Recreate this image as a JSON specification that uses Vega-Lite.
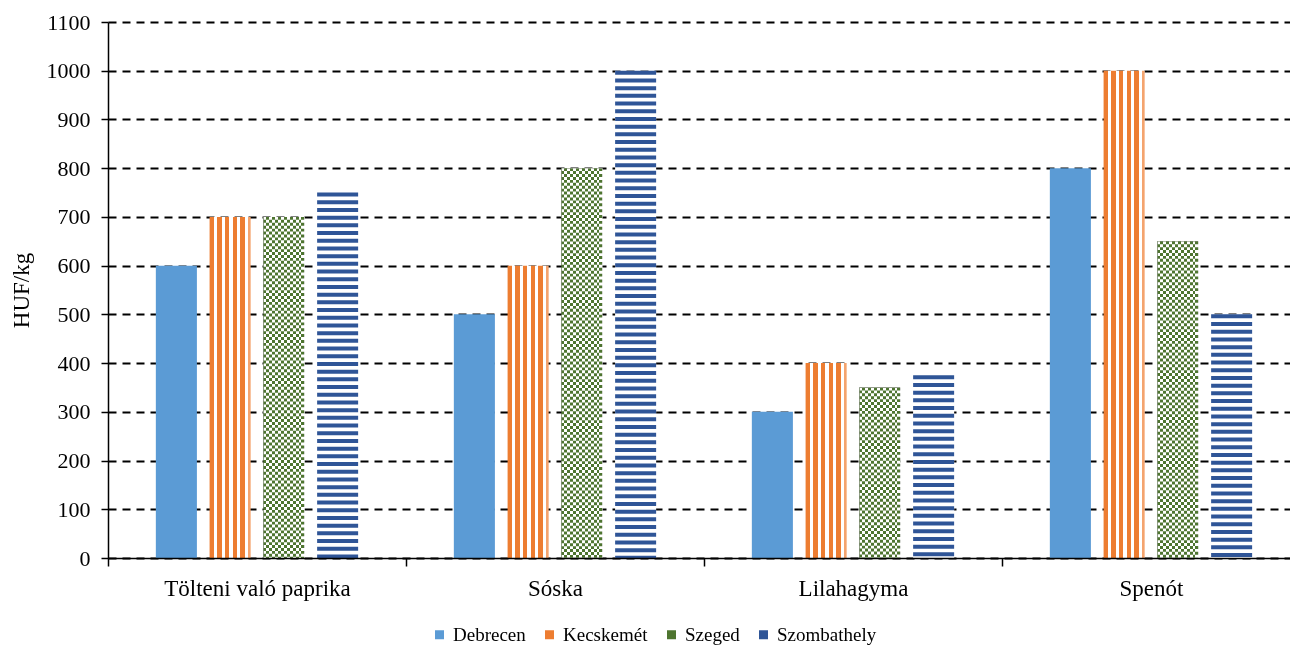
{
  "$schema": "https://vega.github.io/schema/vega-lite/v6.json",
  "width": 1182,
  "height": 536,
  "autosize": {"type": "none"},
  "padding": {"left": 108, "top": 22, "right": 0, "bottom": 88},
  "background": "white",
  "config": {
    "font": "Liberation Serif",
    "view": {"stroke": null}
  },
  "data": {
    "values": [
      {"veg": "Tölteni való paprika", "city": "Debrecen", "value": 600},
      {"veg": "Tölteni való paprika", "city": "Kecskemét", "value": 700},
      {"veg": "Tölteni való paprika", "city": "Szeged", "value": 700},
      {"veg": "Tölteni való paprika", "city": "Szombathely", "value": 750},
      {"veg": "Sóska", "city": "Debrecen", "value": 500},
      {"veg": "Sóska", "city": "Kecskemét", "value": 600},
      {"veg": "Sóska", "city": "Szeged", "value": 800},
      {"veg": "Sóska", "city": "Szombathely", "value": 1000},
      {"veg": "Lilahagyma", "city": "Debrecen", "value": 300},
      {"veg": "Lilahagyma", "city": "Kecskemét", "value": 400},
      {"veg": "Lilahagyma", "city": "Szeged", "value": 350},
      {"veg": "Lilahagyma", "city": "Szombathely", "value": 375},
      {"veg": "Spenót", "city": "Debrecen", "value": 800},
      {"veg": "Spenót", "city": "Kecskemét", "value": 1000},
      {"veg": "Spenót", "city": "Szeged", "value": 650},
      {"veg": "Spenót", "city": "Szombathely", "value": 500}
    ]
  },
  "encoding": {
    "x": {
      "field": "veg", "type": "nominal",
      "scale": {"domain": ["Tölteni való paprika", "Sóska", "Lilahagyma", "Spenót"], "range": [0, 1192], "paddingInner": 0, "paddingOuter": 0},
      "axis": {"title": null, "labelFontSize": 23, "labelColor": "black", "labelPadding": 11, "labelAngle": 0, "labelLimit": 0, "tickBand": "extent", "tickSize": 8, "tickColor": "black", "tickWidth": 1.5, "domainColor": "black", "domainWidth": 1.5, "grid": false, "zindex": 1}
    },
    "xOffset": {
      "field": "city", "type": "nominal",
      "scale": {"domain": ["Debrecen", "Kecskemét", "Szeged", "Szombathely"], "paddingInner": 0.236, "paddingOuter": 0.89}
    },
    "y": {
      "field": "value", "type": "quantitative",
      "scale": {"domain": [0, 1100], "nice": false},
      "axis": {"title": "HUF/kg", "titleFontSize": 23, "titleFontWeight": "normal", "titleColor": "black", "titlePadding": 13, "values": [0, 100, 200, 300, 400, 500, 600, 700, 800, 900, 1000, 1100], "format": "d", "labelFontSize": 22, "labelColor": "black", "labelPadding": 11, "tickSize": 7, "tickColor": "black", "tickWidth": 1.5, "domainColor": "black", "domainWidth": 1.5, "grid": true, "gridColor": "black", "gridDash": [8, 6], "gridWidth": 1.8, "zindex": 0}
    }
  },
  "layer": [
    {
      "mark": {"type": "bar"},
      "encoding": {
        "color": {
          "field": "city", "type": "nominal",
          "scale": {"domain": ["Debrecen", "Kecskemét", "Szeged", "Szombathely"], "range": ["#5B9BD5", "#ED7D31", "#4E7530", "#2F5597"]},
          "legend": {"title": null, "orient": "none", "legendX": 322, "legendY": 603, "direction": "horizontal", "symbolType": "square", "symbolSize": 81, "symbolStrokeWidth": 0, "labelFontSize": 19, "labelColor": "black", "labelOffset": 4, "columnPadding": 14, "padding": 0},
          "condition": [
            {"test": "datum.city === 'Kecskemét'", "value": {"gradient": "linear", "x1": 0, "y1": 0, "x2": 1, "y2": 0, "stops": [
              {"offset": 0, "color": "#ED7D31"}, {"offset": 0.105, "color": "#ED7D31"}, {"offset": 0.105, "color": "#FFFFFF"}, {"offset": 0.188, "color": "#FFFFFF"},
              {"offset": 0.188, "color": "#ED7D31"}, {"offset": 0.293, "color": "#ED7D31"}, {"offset": 0.293, "color": "#FFFFFF"}, {"offset": 0.376, "color": "#FFFFFF"},
              {"offset": 0.376, "color": "#ED7D31"}, {"offset": 0.481, "color": "#ED7D31"}, {"offset": 0.481, "color": "#FFFFFF"}, {"offset": 0.564, "color": "#FFFFFF"},
              {"offset": 0.564, "color": "#ED7D31"}, {"offset": 0.669, "color": "#ED7D31"}, {"offset": 0.669, "color": "#FFFFFF"}, {"offset": 0.752, "color": "#FFFFFF"},
              {"offset": 0.752, "color": "#ED7D31"}, {"offset": 0.857, "color": "#ED7D31"}, {"offset": 0.857, "color": "#FFFFFF"}, {"offset": 0.94, "color": "#FFFFFF"},
              {"offset": 0.94, "color": "#F4A46E"}, {"offset": 1, "color": "#F4A46E"}
            ]}},
            {"test": "datum.city === 'Szeged'", "value": {"gradient": "linear", "x1": 0, "y1": 0, "x2": 1, "y2": 0, "stops": [
              {"offset": 0, "color": "#000000"}, {"offset": 0.0714, "color": "#000000"}, {"offset": 0.0714, "color": "#FFFFFF"}, {"offset": 0.1429, "color": "#FFFFFF"},
              {"offset": 0.1429, "color": "#000000"}, {"offset": 0.2143, "color": "#000000"}, {"offset": 0.2143, "color": "#FFFFFF"}, {"offset": 0.2857, "color": "#FFFFFF"},
              {"offset": 0.2857, "color": "#000000"}, {"offset": 0.3571, "color": "#000000"}, {"offset": 0.3571, "color": "#FFFFFF"}, {"offset": 0.4286, "color": "#FFFFFF"},
              {"offset": 0.4286, "color": "#000000"}, {"offset": 0.5, "color": "#000000"}, {"offset": 0.5, "color": "#FFFFFF"}, {"offset": 0.5714, "color": "#FFFFFF"},
              {"offset": 0.5714, "color": "#000000"}, {"offset": 0.6429, "color": "#000000"}, {"offset": 0.6429, "color": "#FFFFFF"}, {"offset": 0.7143, "color": "#FFFFFF"},
              {"offset": 0.7143, "color": "#000000"}, {"offset": 0.7857, "color": "#000000"}, {"offset": 0.7857, "color": "#FFFFFF"}, {"offset": 0.8571, "color": "#FFFFFF"},
              {"offset": 0.8571, "color": "#000000"}, {"offset": 0.9286, "color": "#000000"}, {"offset": 0.9286, "color": "#FFFFFF"}, {"offset": 1, "color": "#FFFFFF"}
            ]}},
            {"test": "datum.city === 'Szombathely'", "value": "#FFFFFF"}
          ]
        }
      }
    },
    {
      "transform": [{"filter": "datum.city === 'Szombathely'"}],
      "mark": {"type": "rule", "color": "#2F5597", "strokeWidth": 41, "strokeDash": [4, 3.7], "strokeCap": "butt"},
      "encoding": {"y2": {"datum": 0}}
    },
    {
      "transform": [{"filter": "datum.city === 'Szeged'"}],
      "mark": {"type": "rule", "color": "#FFFFFF", "strokeWidth": 40.6, "strokeDash": [2.93, 2.93], "strokeCap": "butt", "blend": "difference"},
      "encoding": {"y2": {"datum": 0}}
    },
    {
      "transform": [{"filter": "datum.city === 'Szeged'"}],
      "mark": {"type": "bar", "color": "#4E7530", "blend": "screen"},
      "encoding": {}
    }
  ]
}
